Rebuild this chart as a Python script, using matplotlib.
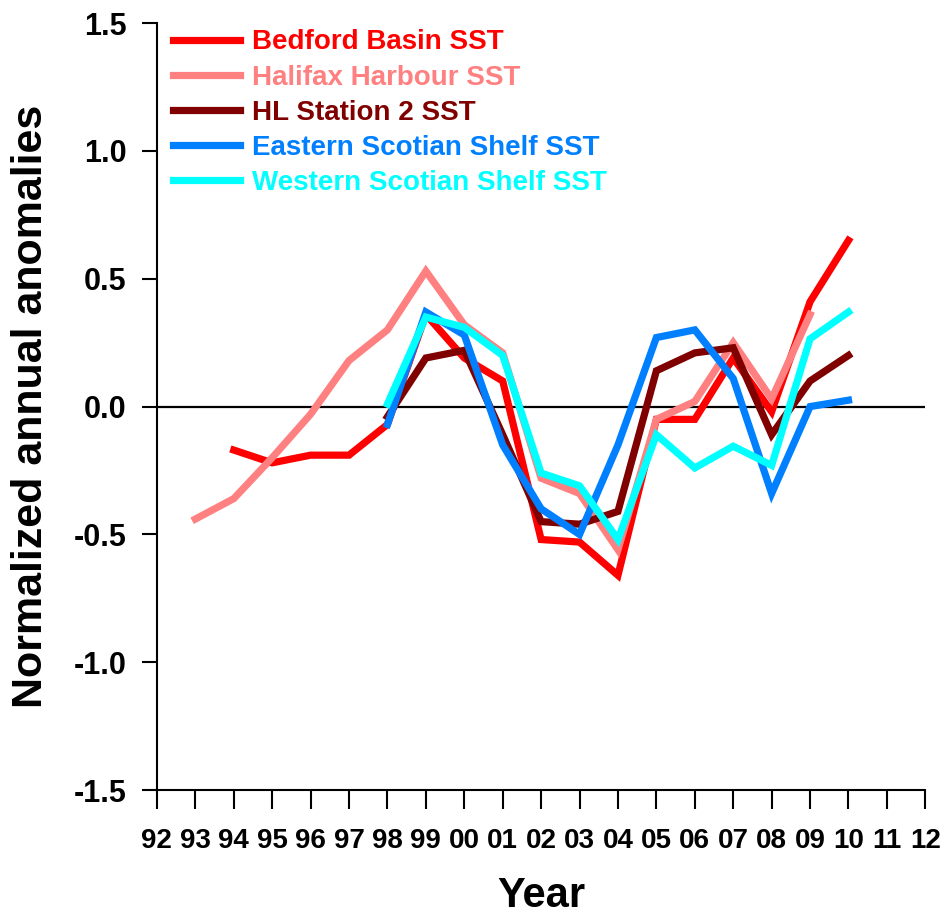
import numpy as np
import matplotlib.pyplot as plt

# year labels 1992..2012, data index 0..20
years = ["92", "93", "94", "95", "96", "97", "98", "99", "00", "01", "02",
         "03", "04", "05", "06", "07", "08", "09", "10", "11", "12"]
nan = np.nan

bedford = [nan, nan, -0.17, -0.22, -0.19, -0.19, -0.07, 0.36, 0.19, 0.10, -0.52,
           -0.53, -0.66, -0.05, -0.05, 0.19, -0.02, 0.41, 0.65, nan, nan]
halifax = [nan, -0.44, -0.36, -0.20, -0.03, 0.18, 0.30, 0.53, 0.32, 0.21, -0.28,
           -0.34, -0.56, -0.05, 0.02, 0.25, 0.03, 0.36, nan, nan, nan]
hl2 = [nan, nan, nan, nan, nan, nan, -0.04, 0.19, 0.22, -0.11, -0.45,
       -0.46, -0.41, 0.14, 0.21, 0.23, -0.11, 0.10, 0.20, nan, nan]
eastern = [nan, nan, nan, nan, nan, nan, -0.07, 0.37, 0.28, -0.15, -0.40,
           -0.50, -0.15, 0.27, 0.30, 0.11, -0.34, 0.00, 0.025, nan, nan]
western = [nan, nan, nan, nan, nan, nan, 0.01, 0.35, 0.31, 0.20, -0.26,
           -0.31, -0.52, -0.11, -0.24, -0.155, -0.23, 0.265, 0.37, nan, nan]

series = [
    ("Bedford Basin SST", bedford, "#FF0000"),
    ("Halifax Harbour SST", halifax, "#FF8080"),
    ("HL Station 2 SST", hl2, "#800000"),
    ("Eastern Scotian Shelf SST", eastern, "#0080FF"),
    ("Western Scotian Shelf SST", western, "#00FFFF"),
]

plt.rcParams["font.family"] = ["Liberation Sans", "DejaVu Sans"]
plt.rcParams["font.weight"] = "bold"

fig = plt.figure(figsize=(9.51, 9.23), dpi=100)
ax = fig.add_axes([0.165, 0.144, 0.808, 0.831])

x = np.arange(len(years))
ax.axhline(0, color="black", lw=1.6, zorder=1)
for label, vals, color in series:
    ax.plot(x, vals, color=color, lw=5.2, label=label, solid_joinstyle="miter")

ax.set_xlim(0, 20)
ax.set_ylim(-1.5, 1.5)
ax.set_xticks(x)
ax.set_xticklabels(years, fontsize=20, fontweight="bold")
yt = [-1.5, -1.0, -0.5, 0.0, 0.5, 1.0, 1.5]
ax.set_yticks(yt)
ax.set_yticklabels(["%.1f" % v for v in yt], fontsize=22, fontweight="bold")
ax.tick_params(axis="x", direction="out", length=14, width=1.5, pad=13)
ax.tick_params(axis="y", direction="out", length=11, width=1.5, pad=11)

for s in ("top", "right"):
    ax.spines[s].set_visible(False)
for s in ("left", "bottom"):
    ax.spines[s].set_linewidth(1.5)

ax.set_xlabel("Year", fontsize=30, fontweight="bold", labelpad=16)
ax.set_ylabel("Normalized annual anomalies", fontsize=31, fontweight="bold", labelpad=16)

leg = ax.legend(loc="upper left", bbox_to_anchor=(-0.004, 1.017), frameon=False,
                fontsize=20, handlelength=2.4, handletextpad=0.45,
                labelspacing=0.33, labelcolor="linecolor", borderaxespad=0.3)
for t in leg.get_texts():
    t.set_fontweight("bold")

fig.savefig("out.png", dpi=100)
